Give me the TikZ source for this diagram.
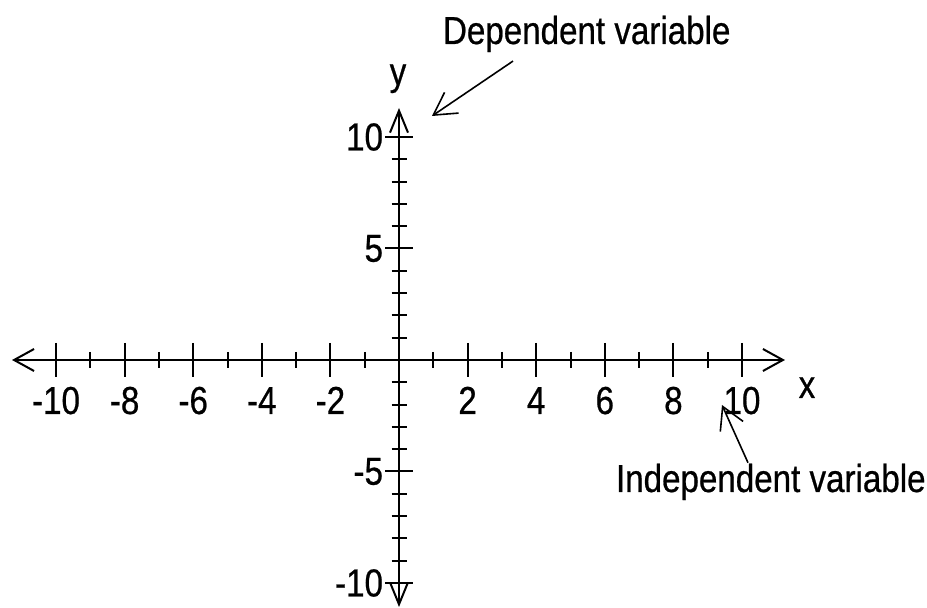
\documentclass[tikz,border=0pt]{standalone}
\usepackage{fontspec}
\setmainfont{Liberation Sans}[FakeStretch=0.85, FakeBold=0.6]
\usetikzlibrary{arrows.meta}
\definecolor{axisblack}{HTML}{000000}

\begin{document}
\begin{tikzpicture}[x=0.5pt, y=-0.5pt, line width=1pt, axisblack,
    >={Straight Barb[length=11pt,width=9pt]},
    every node/.style={font=\fontsize{19.5}{22}\selectfont, inner sep=0pt}]
  \useasboundingbox (0,0) rectangle (927,608);

  % axes
  \coordinate (xleft) at (12,360);  \coordinate (xright) at (785,360);
  \coordinate (ytop) at (399,108);  \coordinate (ybottom) at (399,607);
  \draw[<->, >={Straight Barb[length=10pt,width=11pt]}] (xleft) -- (xright);
  \draw[<->] (ybottom) -- (ytop);

  % x ticks and labels
  \foreach \i in {-9,-7,...,9}{
    \draw ({399+34.3*\i},352) -- ({399+34.3*\i},368);
  }
  \foreach \i in {-10,-8,-6,-4,-2,2,4,6,8,10}{
    \draw ({399+34.3*\i},343) -- ({399+34.3*\i},377);
    \node[anchor=base] (xlab\i) at ({399+34.3*\i},414) {\i};
  }

  % y ticks and labels
  \foreach \j in {-9,...,-6,-4,-3,-2,-1,1,2,3,4,6,7,8,9}{
    \draw (391.5,{360-22.3*\j}) -- (406.5,{360-22.3*\j});
  }
  \foreach \j in {-10,-5,5,10}{
    \draw (385,{360-22.3*\j}) -- (413,{360-22.3*\j});
    \node[anchor=east] (ylab\j) at (384,{360-22.3*\j}) {\j};
  }

  \node[anchor=base] (ylabel) at (398,85) {y};
  \node[anchor=base] (xlabel) at (807,398) {x};

  % annotations
  \node[anchor=base west] (dep) at (442,44) {Dependent variable};
  \node[anchor=base west] (indep) at (615,492) {Independent variable};
  \coordinate (deptip) at (432,116);
  \coordinate (indeptip) at (722,405);
  \draw[->, line width=0.8pt, >={Straight Barb[length=11pt,width=12.5pt]}]
    ([shift={(71,8)}]dep.south west) -- (deptip);
  \draw[->, line width=0.8pt, >={Straight Barb[length=11pt,width=12.5pt]}]
    ([shift={(133,0)}]indep.north west) -- (indeptip);
\end{tikzpicture}
\end{document}
